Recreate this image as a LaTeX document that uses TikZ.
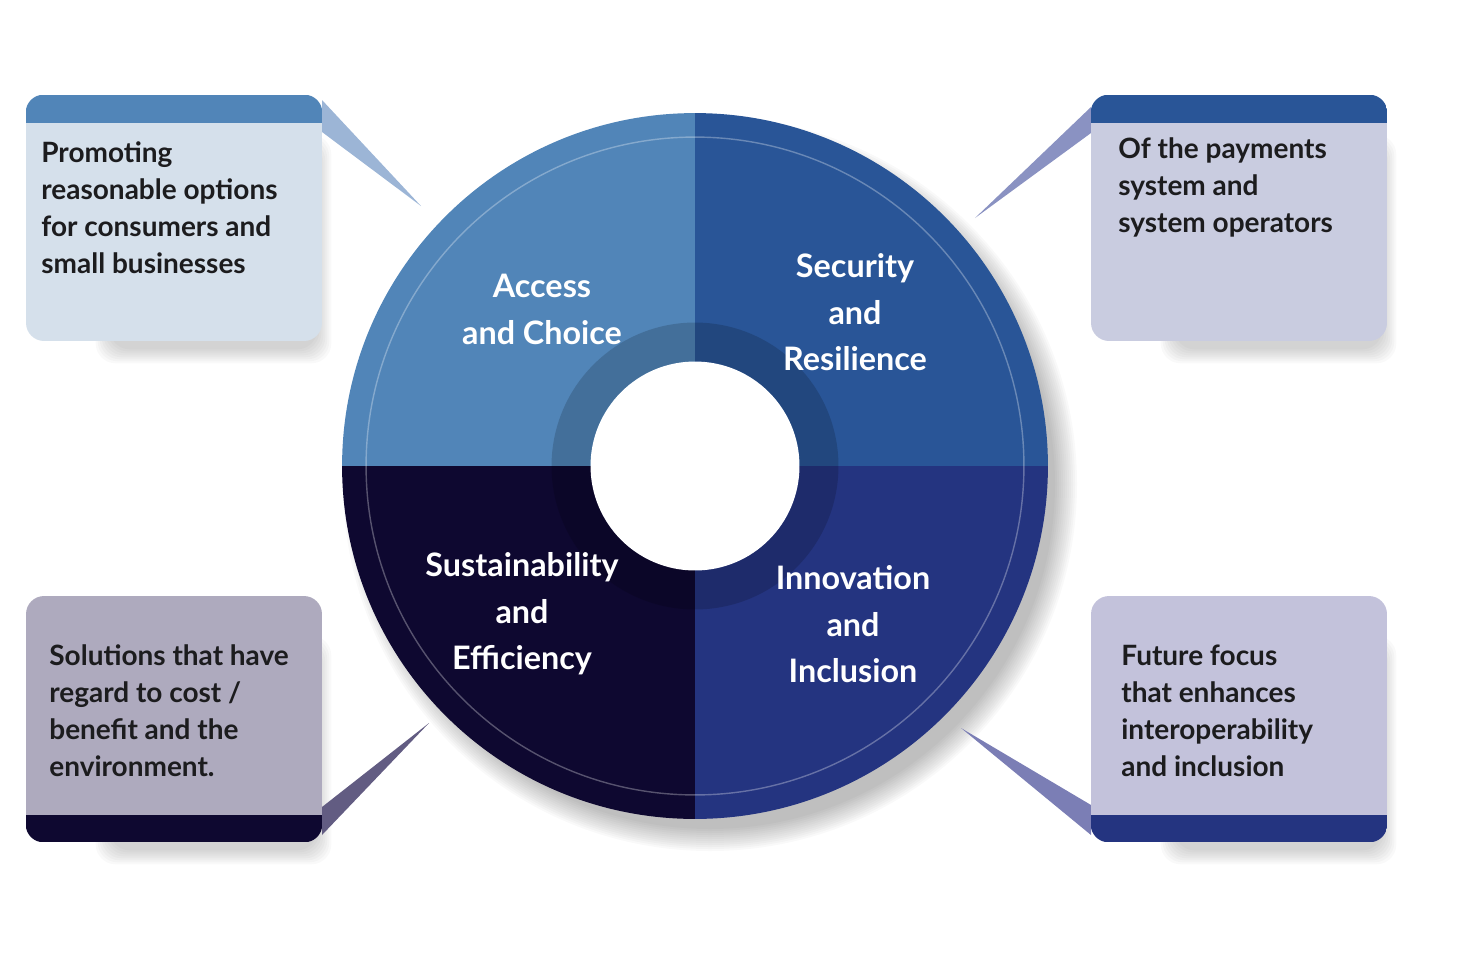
\documentclass[tikz,border=0pt]{standalone}
\usepackage{fontspec}
\setmainfont{Lato}
\usepackage{tikz}
\definecolor{accessblue}{HTML}{5185B8}
\definecolor{securityblue}{HTML}{295597}
\definecolor{innovblue}{HTML}{243480}
\definecolor{sustainnavy}{HTML}{0E0830}
\definecolor{accesspale}{HTML}{D5E0EB}
\definecolor{securitypale}{HTML}{C9CCE0}
\definecolor{sustainpale}{HTML}{AEAABE}
\definecolor{innovpale}{HTML}{C3C2DB}
\definecolor{accesstip}{HTML}{9CB5D6}
\definecolor{securitytip}{HTML}{8A92C2}
\definecolor{sustaintip}{HTML}{625C82}
\definecolor{innovtip}{HTML}{7B7EB5}
\definecolor{boxink}{HTML}{1C1C1E}
\pgfdeclarelayer{edgelayer}
\pgfdeclarelayer{nodelayer}
\pgfsetlayers{edgelayer,nodelayer,main}
\tikzstyle{none}=[inner sep=0pt]
\tikzstyle{shade}=[black,opacity=.025]
\tikzstyle{box}=[rectangle,rounded corners=0.36cm,minimum width=5.92cm,minimum height=4.92cm,inner sep=0pt]
\tikzstyle{boxtext}=[anchor=north west,align=left,inner sep=0pt,text=boxink,font=\fontsize{15.93}{21.05}\selectfont\bfseries]
\tikzstyle{quarter}=[anchor=north,align=center,inner sep=0pt,text=white,font=\fontsize{18.4}{26.6}\selectfont\bfseries]

\begin{document}
\begin{tikzpicture}[x=0.02cm,y=-0.02cm]
	\useasboundingbox (0,0) rectangle (1470,964);
	\begin{pgfonlayer}{nodelayer}
		\node [style=none] (0) at (695, 466) {};
		\node [style=box, fill=accesspale] (1) at (174, 218) {};
		\node [style=box, fill=securitypale] (2) at (1239, 218) {};
		\node [style=box, fill=sustainpale] (3) at (174, 719) {};
		\node [style=box, fill=innovpale] (4) at (1239, 719) {};
		\node [style=none] (13) at (322, 100) {};
		\node [style=none] (14) at (421, 206) {};
		\node [style=none] (15) at (322, 132) {};
		\node [style=none] (16) at (1091, 107) {};
		\node [style=none] (17) at (975, 218) {};
		\node [style=none] (18) at (1091, 133) {};
		\node [style=none] (19) at (322, 807) {};
		\node [style=none] (20) at (429, 723) {};
		\node [style=none] (21) at (322, 835) {};
		\node [style=none] (22) at (1091, 805) {};
		\node [style=none] (23) at (961, 728) {};
		\node [style=none] (24) at (1091, 835) {};
	\end{pgfonlayer}
	\begin{pgfonlayer}{edgelayer}
		% soft shadows
		\foreach \r in {345,347,...,367}
			\fill [style=shade] (710, 484) circle [radius=\r];
		\foreach \b in {1,2,3,4}
			\foreach \d in {0,2,...,14}
				\fill [style=shade, rounded corners=0.4cm] ([shift={(70+\d,40+\d)}]\b.north west) rectangle ([shift={(9-\d,22-\d)}]\b.south east);
		% pointers
		\fill [accesstip] (13.center) -- (14.center) -- (15.center) -- cycle;
		\fill [securitytip] (16.center) -- (17.center) -- (18.center) -- cycle;
		\fill [sustaintip] (19.center) -- (20.center) -- (21.center) -- cycle;
		\fill [innovtip] (22.center) -- (23.center) -- (24.center) -- cycle;
		% wheel
		\begin{scope}
			\clip (0) circle (7.06cm);
			\fill [accessblue] (0) rectangle ++(-400, -400);
			\fill [securityblue] (0) rectangle ++(400, -400);
			\fill [innovblue] (0) rectangle ++(400, 400);
			\fill [sustainnavy] (0) rectangle ++(-400, 400);
		\end{scope}
		\fill [black, opacity=.16, even odd rule] (0) circle (2.87cm) (0) circle (2.09cm);
		\fill [white] (0) circle (2.09cm);
		\draw [white, opacity=.3, line width=0.8pt] (0) circle (6.58cm);
	\end{pgfonlayer}
	% header and footer bands
	\begin{scope}
		\clip [rounded corners=0.36cm] (1.south west) rectangle (1.north east);
		\fill [accessblue] (1.north west) rectangle ([shift={(0,28)}]1.north east);
	\end{scope}
	\begin{scope}
		\clip [rounded corners=0.36cm] (2.south west) rectangle (2.north east);
		\fill [securityblue] (2.north west) rectangle ([shift={(0,28)}]2.north east);
	\end{scope}
	\begin{scope}
		\clip [rounded corners=0.36cm] (3.south west) rectangle (3.north east);
		\fill [sustainnavy] (3.south west) rectangle ([shift={(0,-27)}]3.south east);
	\end{scope}
	\begin{scope}
		\clip [rounded corners=0.36cm] (4.south west) rectangle (4.north east);
		\fill [innovblue] (4.south west) rectangle ([shift={(0,-27)}]4.south east);
	\end{scope}
	\node [style=boxtext] (5) at (41, 141) {Promoting\\reasonable options\\for consumers and\\small businesses};
	\node [style=boxtext] (6) at (1118, 137) {Of the payments\\system and\\system operators};
	\node [style=boxtext] (7) at (49, 644) {Solutions that have\\regard to cost /\\benefit and the\\environment.};
	\node [style=boxtext] (8) at (1121, 645) {Future focus\\that enhances\\interoperability\\and inclusion};
	\node [style=quarter] (9) at (542, 274) {Access\\and Choice};
	\node [style=quarter] (10) at (855, 253) {Security\\and\\Resilience};
	\node [style=quarter] (11) at (522, 552) {Sustainability\\and\\Efficiency};
	\node [style=quarter] (12) at (853, 565) {Innovation\\and\\Inclusion};
\end{tikzpicture}
\end{document}
